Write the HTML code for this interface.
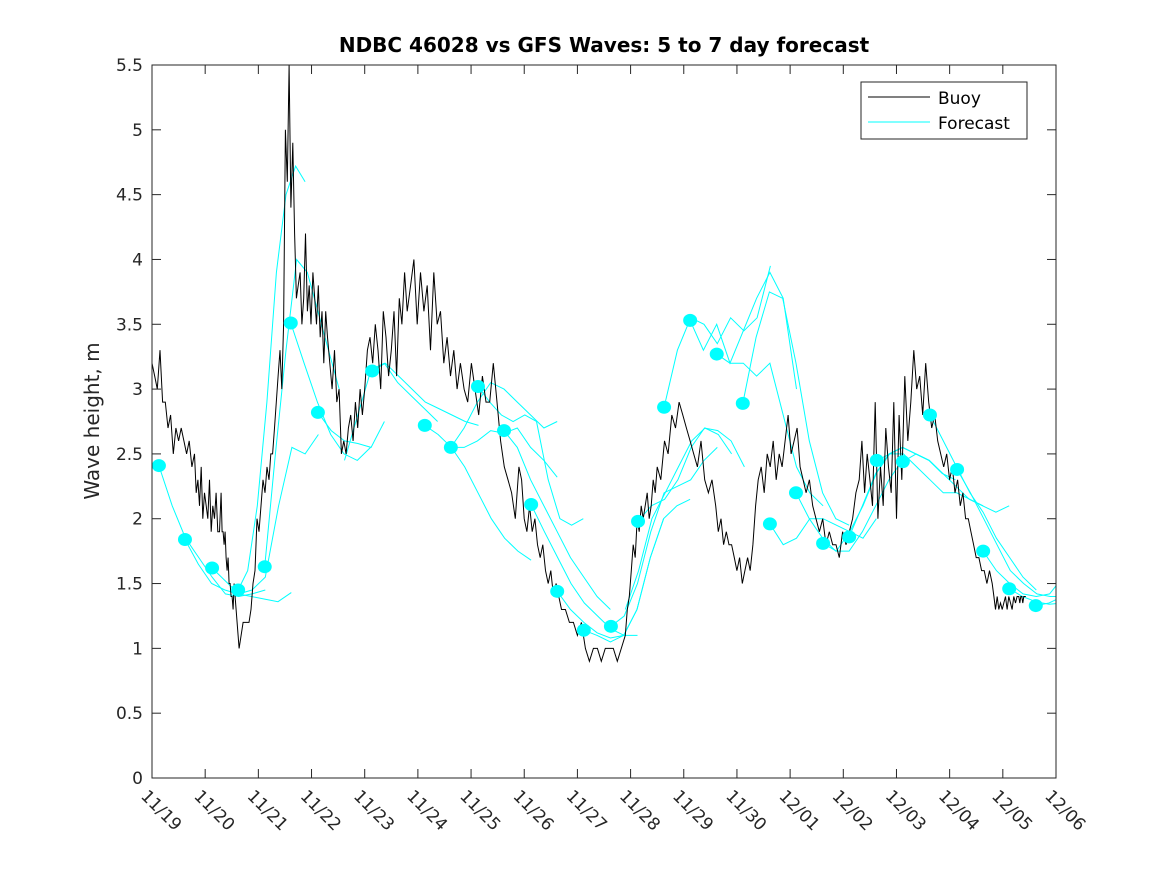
<!DOCTYPE html>
<html><head><meta charset="utf-8"><style>
html,body{margin:0;padding:0;background:#fff;}
svg{display:block;font-family:"DejaVu Sans","Liberation Sans",sans-serif;}
</style></head><body>
<svg id="chart" width="1167" height="875" viewBox="0 0 1167 875">
<rect x="0" y="0" width="1167" height="875" fill="#fff"/>
<text x="604" y="52" text-anchor="middle" font-size="20" font-weight="bold" fill="#000">NDBC 46028 vs GFS Waves: 5 to 7 day forecast</text>
<text transform="translate(99,421) rotate(-90)" text-anchor="middle" font-size="20" fill="#262626">Wave height, m</text>
<g id="plot"></g>
<g id="axes"></g>
<g>
<rect x="861" y="82" width="166" height="57" fill="#fff" stroke="#262626" stroke-width="1"/>
<line x1="868" y1="97" x2="930" y2="97" stroke="#000" stroke-width="1"/>
<text x="938" y="104" font-size="17" fill="#000">Buoy</text>
<line x1="868" y1="122" x2="930" y2="122" stroke="#00ffff" stroke-width="1"/>
<text x="938" y="129" font-size="17" fill="#000">Forecast</text>
</g>
</svg>
<script>
const xTickLabels = ["11/19","11/20","11/21","11/22","11/23","11/24","11/25","11/26","11/27","11/28","11/29","11/30","12/01","12/02","12/03","12/04","12/05","12/06"];
const yTickLabels = ["0","0.5","1","1.5","2","2.5","3","3.5","4","4.5","5","5.5"];
const yTickValues = [0,0.5,1,1.5,2,2.5,3,3.5,4,4.5,5,5.5];
const buoyRowDays = [0,0.8,1.3,1.6,2.2,2.75,3.3,4.0,4.8,5.8,6.9,7.7,8.9,9.5,10.6,11.4,12.3,13.3,14.1,15.0,15.8,16.3,16.6];
const buoyValues = [
3.2,3.1,3.0,3.3,2.9,2.9,2.7,2.8,2.5,2.7,2.6,2.7,2.6,2.5,2.6,2.4,
2.5,2.2,2.3,2.1,2.4,2.0,2.2,2.1,2.0,2.3,1.9,2.1,2.0,2.2,1.9,1.9,
2.2,1.9,1.9,1.8,1.9,1.7,1.6,1.7,1.5,1.5,1.4,1.4,1.3,1.5,1.4,1.3,
1.2,1.0,1.1,1.2,1.2,1.2,1.2,1.3,1.5,1.6,2.0,1.9,2.1,2.3,2.2,2.4,
2.3,2.5,2.5,2.7,2.9,3.1,3.3,3.0,3.5,5.0,4.6,5.5,4.4,4.9,4.2,3.7,
3.8,3.9,3.5,3.7,4.2,3.6,3.8,3.5,3.9,3.7,3.5,3.8,3.4,3.6,3.2,3.6,
3.4,3.2,3.0,3.3,2.9,3.0,2.5,2.6,2.5,2.7,2.8,2.6,2.9,2.7,3.0,2.8,
3.0,3.3,3.4,3.2,3.5,3.3,3.0,3.6,3.4,3.1,3.3,3.6,3.1,3.7,3.5,3.9,
3.6,3.8,4.0,3.5,3.9,3.6,3.8,3.3,3.9,3.5,3.6,3.2,3.4,3.1,3.3,3.0,
3.2,3.0,2.9,3.2,3.0,2.8,3.1,2.9,2.9,3.2,2.9,2.6,2.4,2.3,2.2,2.0,
2.4,2.3,2.0,1.9,2.1,1.9,2.0,1.8,1.7,1.8,1.6,1.5,1.6,1.4,1.5,1.4,
1.3,1.3,1.2,1.2,1.1,1.2,1.0,0.9,1.0,1.0,0.9,1.0,1.0,1.0,0.9,1.0,
1.1,1.3,1.4,1.6,1.8,1.7,2.0,1.9,2.1,2.0,2.1,2.2,2.0,2.1,2.3,2.2,
2.4,2.3,2.6,2.5,2.8,2.7,2.9,2.8,2.7,2.6,2.5,2.4,2.6,2.3,2.2,2.3,
2.1,1.9,2.0,1.8,1.9,1.8,1.8,1.7,1.6,1.7,1.5,1.6,1.7,1.6,1.8,2.1,
2.3,2.4,2.2,2.5,2.4,2.6,2.3,2.5,2.4,2.6,2.8,2.5,2.6,2.7,2.4,2.3,
2.2,2.3,2.1,2.0,1.9,2.0,1.8,1.9,1.8,1.8,1.7,1.9,1.8,1.9,2.0,2.2,
2.3,2.6,2.2,2.5,2.3,2.1,2.9,2.0,2.4,2.1,2.7,2.4,2.2,2.9,2.0,2.8,
2.3,3.1,2.6,2.9,3.3,3.0,3.1,2.8,3.2,2.9,2.7,2.8,2.6,2.5,2.4,2.5,
2.3,2.4,2.2,2.3,2.1,2.2,2.0,2.0,1.9,1.8,1.7,1.7,1.6,1.6,1.5,1.6,
1.5,1.4,1.3,1.4,1.3,1.35,1.3,1.35,1.4,1.3,1.4,1.35,1.3,1.4,1.35,1.4,
1.4,1.35,1.4,1.4,1.35,1.4,1.4,1.4
];
const dotTimes = [0.13,0.62,1.13,1.62,2.12,2.61,3.12,4.14,5.13,5.62,6.13,6.62,7.13,7.62,8.12,8.63,9.14,9.63,10.12,10.62,11.11,11.62,12.11,12.62,13.11,13.63,14.12,14.63,15.14,15.63,16.12,16.62];
const dotValues = [2.41,1.84,1.62,1.45,1.63,3.51,2.82,3.14,2.72,2.55,3.02,2.68,2.11,1.44,1.14,1.17,1.98,2.86,3.53,3.27,2.89,1.96,2.20,1.81,1.86,2.45,2.44,2.80,2.38,1.75,1.46,1.33];
const forecastStarts = [0.13,0.62,1.13,1.62,2.12,2.61,3.12,3.62,4.14,5.13,5.62,5.62,6.13,6.62,7.13,7.62,8.12,8.63,8.9,9.14,9.63,10.12,10.62,11.11,11.62,12.11,12.62,13.11,13.63,14.12,14.63,15.14,15.63,16.12,16.62];
const forecastSteps = [0.25,0.25,0.25,0.18,0.2,0.25,0.25,0.25,0.25,0.25,0.25,0.25,0.22,0.25,0.25,0.25,0.25,0.25,0.25,0.25,0.25,0.25,0.25,0.25,0.25,0.25,0.25,0.25,0.25,0.25,0.25,0.25,0.25,0.25,0.25];
const forecastValues = [
[2.41,2.1,1.85,1.7,1.55,1.42,1.4,1.42,1.45],
[1.84,1.65,1.5,1.45,1.42,1.4,1.38,1.36,1.43],
[1.62,1.52,1.42,1.45,1.55,2.1,2.55,2.5,2.65],
[1.45,1.6,2.1,2.9,3.9,4.5,4.72,4.6],
[1.63,2.5,3.3,4.0,3.9,3.6,3.3,3.0],
[3.51,3.2,2.9,2.65,2.5,2.45,2.55],
[2.82,2.68,2.6,2.58,2.55,2.75],
[2.45,2.8,3.15,3.2,3.05,2.95,2.85,2.75],
[3.14,3.2,3.1,3.0,2.9,2.85,2.8,2.75,2.72],
[2.72,2.65,2.55,2.4,2.2,2.0,1.85,1.75,1.68],
[2.55,2.7,2.9,3.05,3.0,2.9,2.8,2.7,2.75],
[2.55,2.55,2.6,2.68,2.66,2.7,2.55,2.45,2.32],
[3.02,2.9,2.8,2.75,2.8,2.75,2.3,2.0,1.95,2.0],
[2.68,2.55,2.3,2.1,1.9,1.7,1.55,1.4,1.3],
[2.11,1.9,1.7,1.5,1.35,1.25,1.15,1.1,1.1],
[1.44,1.3,1.2,1.12,1.08,1.1,1.3,1.7,2.0],
[1.14,1.1,1.05,1.1,1.3,1.7,2.0,2.1,2.15],
[1.17,1.25,1.5,1.9,2.2,2.25,2.3,2.45,2.55],
[1.3,1.6,2.0,2.2,2.4,2.6,2.7,2.65,2.5],
[1.98,2.1,2.15,2.3,2.55,2.7,2.68,2.6,2.4],
[2.86,3.3,3.55,3.5,3.35,3.55,3.45,3.55,3.95],
[3.53,3.3,3.5,3.2,3.45,3.7,3.9,3.7,3.0],
[3.27,3.2,3.2,3.1,3.2,2.8,2.4,2.2,2.1],
[2.89,3.4,3.75,3.7,3.2,2.6,2.2,2.0,1.95],
[1.96,1.8,1.85,2.0,2.0,1.95,1.9,1.85,2.0],
[2.2,2.0,1.85,1.75,1.75,1.9,2.1,2.3,2.45],
[1.81,1.75,1.9,2.1,2.35,2.5,2.55,2.5,2.45],
[1.86,2.1,2.35,2.5,2.55,2.5,2.45,2.35,2.3],
[2.45,2.5,2.5,2.4,2.3,2.2,2.2,2.15,2.1],
[2.44,2.5,2.45,2.35,2.25,2.15,2.1,2.05,2.1],
[2.8,2.6,2.4,2.2,2.05,1.85,1.7,1.55,1.45],
[2.38,2.2,2.0,1.8,1.6,1.5,1.42,1.4,1.4],
[1.75,1.6,1.5,1.42,1.4,1.42,1.55,1.9,2.45],
[1.46,1.4,1.36,1.34,1.35,1.5,1.75],
[1.33,1.35,1.4,1.45]
];

const NS = "http://www.w3.org/2000/svg";
const L = 152, R = 1056, T = 65, B = 778;
const X_MIN = 0, X_MAX = 17, Y_MIN = 0, Y_MAX = 5.5;
function xScale(d){ return L + (d - X_MIN) / (X_MAX - X_MIN) * (R - L); }
function yScale(v){ return B - (v - Y_MIN) / (Y_MAX - Y_MIN) * (B - T); }
function buoyTime(i){ const r = Math.floor(i / 16), f = (i % 16) / 16; return buoyRowDays[r] + f * (buoyRowDays[r + 1] - buoyRowDays[r]); }
function mk(tag, attrs, parent){ const e = document.createElementNS(NS, tag); for (const k in attrs) e.setAttribute(k, attrs[k]); parent.appendChild(e); return e; }

const svg = document.getElementById('chart');
const plot = document.getElementById('plot');
const axes = document.getElementById('axes');
const defs = mk('defs', {}, svg);
const cp = mk('clipPath', {id:'clip'}, defs);
mk('rect', {x:L, y:T, width:R-L, height:B-T}, cp);
plot.setAttribute('clip-path', 'url(#clip)');

forecastValues.forEach((vals, i) => {
  const pts = vals.map((v, j) => xScale(forecastStarts[i] + j * forecastSteps[i]).toFixed(1) + ',' + yScale(v).toFixed(1)).join(' ');
  const pl = mk('polyline', {points: pts, fill:'none', stroke:'#00ffff', 'stroke-width':'1'}, plot);
  
  
});

{
  const pts = buoyValues.map((v, j) => xScale(buoyTime(j)).toFixed(1) + ',' + yScale(v).toFixed(1)).join(' ');
  const pl = mk('polyline', {points: pts, fill:'none', stroke:'#000', 'stroke-width':'1'}, plot);
  
  
}

dotValues.forEach((v, i) => {
  const c = mk('ellipse', {cx: xScale(dotTimes[i]), cy: yScale(v), rx: 7, ry: 6.5, fill:'#00ffff'}, plot);
  
  
});

const box = mk('rect', {x:L, y:T, width:R-L, height:B-T, fill:'none', stroke:'#262626', 'stroke-width':'1'}, axes);



yTickValues.forEach((v, i) => {
  const y = yScale(v);
  mk('line', {x1:L, y1:y, x2:L+9, y2:y, stroke:'#262626'}, axes);
  mk('line', {x1:R, y1:y, x2:R-9, y2:y, stroke:'#262626'}, axes);
  const t = mk('text', {x:L-9, y:y+6, 'text-anchor':'end', 'font-size':'17', fill:'#262626'}, axes);
  t.textContent = yTickLabels[i];
  
  
});

xTickLabels.forEach((lab, i) => {
  const x = xScale(i);
  mk('line', {x1:x, y1:B, x2:x, y2:B-9, stroke:'#262626'}, axes);
  mk('line', {x1:x, y1:T, x2:x, y2:T+9, stroke:'#262626'}, axes);
  const t = mk('text', {transform:'translate(' + (x-12) + ',' + (B+19) + ') rotate(45)', 'text-anchor':'start', 'font-size':'17', fill:'#262626'}, axes);
  t.textContent = lab;
  
  
});
</script>
</body></html>
